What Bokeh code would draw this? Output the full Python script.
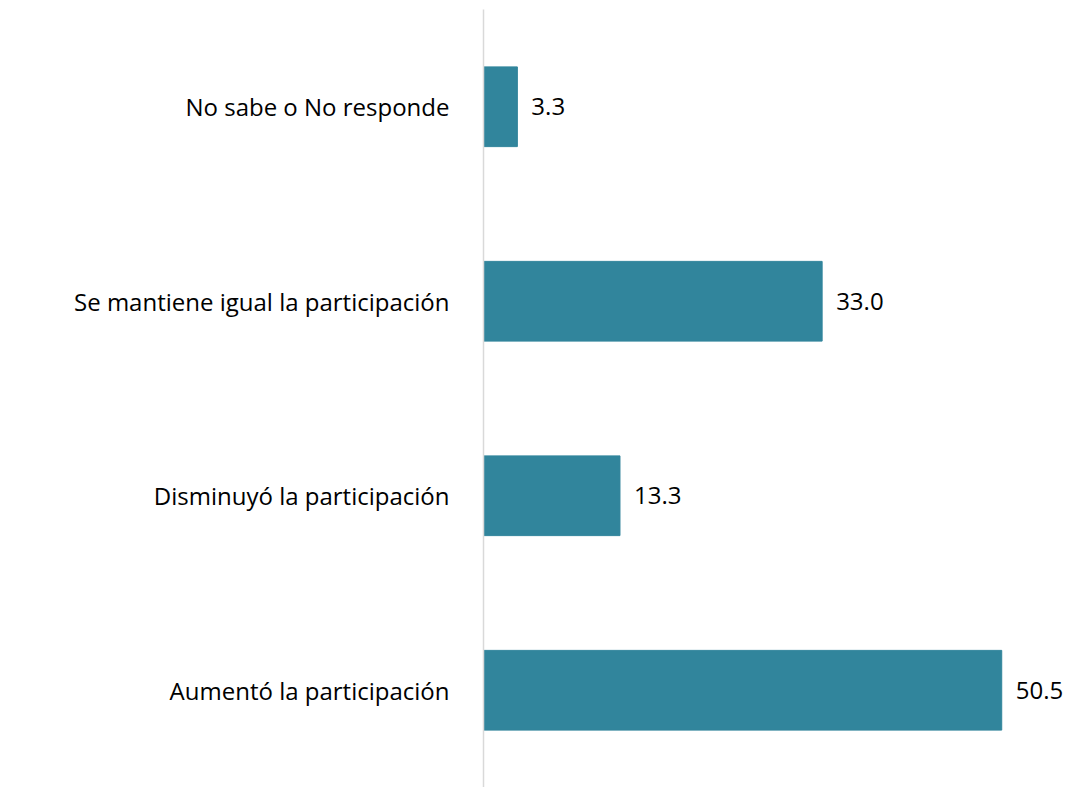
from bokeh.plotting import figure
from bokeh.models import ColumnDataSource, FactorRange
from bokeh.core.properties import value
from bokeh.embed import file_html
from bokeh.resources import INLINE

categories = ["Aumentó la participación", "Disminuyó la participación",
              "Se mantiene igual la participación", "No sabe o No responde"]
values = [50.5, 13.3, 33.0, 3.3]
value_labels = ["50.5", "13.3", "33.0", "3.3"]

FONT = "Open Sans"
BAR_COLOR = "#31859C"

src = ColumnDataSource(dict(cat=categories, val=values, lab=value_labels))

p = figure(width=1071, height=787, y_range=FactorRange(*categories, range_padding=0),
           x_range=(0, 57.3), output_backend="svg", toolbar_location=None,
           min_border_left=483, min_border_right=0, min_border_top=9, min_border_bottom=0)

p.hbar(y="cat", right="val", left=0, height=0.41, color=BAR_COLOR, source=src)
p.text(x="val", y="cat", text="lab", x_offset=14, text_baseline="middle", text_align="left",
       text_font=value(FONT), text_font_size="24px", text_color="#000000", source=src)

p.xaxis.visible = False
p.xgrid.visible = False
p.ygrid.visible = False
p.outline_line_color = None
p.yaxis.axis_line_color = "#D9D9D9"
p.yaxis.axis_line_width = 1.5
p.yaxis.major_tick_line_color = None
p.yaxis.minor_tick_line_color = None
p.yaxis.major_label_text_font = FONT
p.yaxis.major_label_text_font_size = "24px"
p.yaxis.major_label_text_color = "#000000"
p.yaxis.major_label_standoff = 28

open("out.html", "w").write(file_html(p, INLINE))
